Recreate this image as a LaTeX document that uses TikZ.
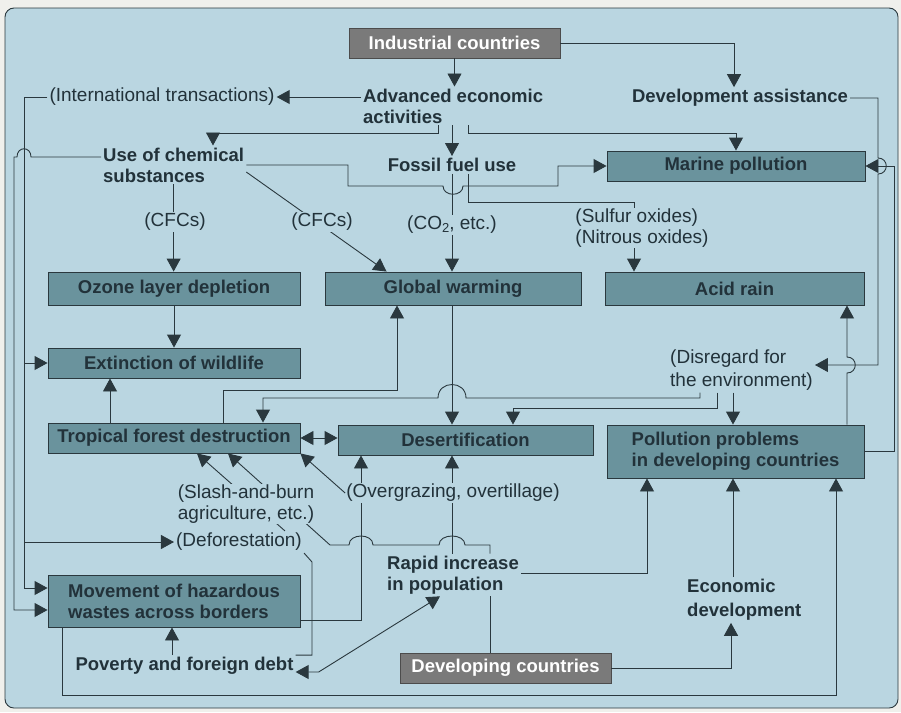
\documentclass[tikz,border=0pt]{standalone}
\usepackage{fontspec}
\setmainfont{Liberation Sans}
\usetikzlibrary{arrows.meta}

\definecolor{pagebg}{RGB}{240,240,236}
\definecolor{panelbg}{RGB}{186,214,225}
\definecolor{boxfill}{RGB}{106,147,157}
\definecolor{greyfill}{RGB}{122,122,122}
\definecolor{inkline}{RGB}{42,56,62}
\definecolor{inktext}{RGB}{34,50,58}

\newcommand\causefont{\fontsize{18.5}{21}\selectfont\bfseries}
\newcommand\notefont{\fontsize{19}{21}\selectfont}

\begin{document}
\begin{tikzpicture}[x=1pt, y=-1pt,
    wire/.style={draw=inkline, line width=0.9pt},
    arrowed/.style={wire, -{Triangle[length=13pt,width=14pt]}},
    twoway/.style={wire, {Triangle[length=13pt,width=14pt]}-{Triangle[length=13pt,width=14pt]}},
    issue/.style={draw=inkline, line width=0.9pt, fill=boxfill, text=inktext, font=\causefont,
        align=center, inner sep=2pt, minimum width=252pt, minimum height=30pt},
    actor/.style={issue, draw=black!70, fill=greyfill, text=white},
    cause/.style={text=inktext, font=\causefont, align=left, inner sep=2pt},
    note/.style={text=inktext, font=\notefont, align=center, inner sep=2pt},
    onwire/.style={note, fill=panelbg, inner sep=1pt}]

    % Draw the page and the background panel
    \useasboundingbox (0,0) rectangle (901,712);
    \fill[pagebg] (0,0) rectangle (901,712);
    \draw[wire, fill=panelbg, rounded corners=9pt] (5,8) rectangle (898,708);

    % Industrial countries and what they do
    \node[actor, minimum width=211pt] (ind) at (454.5,43) {Industrial countries};
    \node[cause, anchor=west] (adv) at (361,106) {Advanced economic\\activities};
    \node[note] (intl) at (162,97) {(International transactions)};
    \node[cause] (dev) at (740,98) {Development assistance};
    \node[cause, anchor=west] (chem) at (101,165) {Use of chemical\\substances};
    \node[cause] (fossil) at (452,165) {Fossil fuel use};
    \node[issue, minimum width=258pt] (marine) at (736,166) {Marine pollution};

    % Global problems
    \node[issue, minimum height=33pt] (ozone) at (174,288.5) {Ozone layer depletion};
    \node[issue, minimum width=256pt, minimum height=33pt] (warming) at (453,288.5) {Global warming};
    \node[issue, minimum width=259pt, minimum height=33pt] (acid) at (734.5,288.5) {Acid rain};
    \node[issue] (extinct) at (174,363) {Extinction of wildlife};
    \node[issue] (tropic) at (174,438) {Tropical forest destruction};
    \node[issue, minimum width=255pt] (desert) at (465.5,440) {Desertification};
    \node[issue, minimum width=257pt, minimum height=53pt, align=left] (pollut) at (735.5,451.5) {Pollution problems\\in developing countries};
    \node[note, align=left, anchor=west] (disreg) at (668,370) {(Disregard for\\[2pt]the environment)};

    % Developing countries side
    \node[issue, minimum height=52pt, align=left] (moving) at (174,601) {Movement of hazardous\\wastes across borders};
    \node[note] (defor) at (239,542) {(Deforestation)};
    \node[cause, anchor=west] (rapid) at (385,575) {Rapid increase\\in population};
    \node[cause, anchor=west] (econ) at (685,600) {Economic\\[3pt]development};
    \node[cause] (poverty) at (184.5,666) {Poverty and foreign debt};
    \node[actor, minimum width=211pt] (devg) at (505.5,668) {Developing countries};

    % Wires from the industrial countries
    \draw[arrowed] (ind.south) -- (ind.south |- adv.north);
    \draw[arrowed] (ind.east) -| (dev.north -| 734,0);
    \draw[arrowed] (adv.west |- intl.east) -- (intl.east);
    \draw[arrowed] (adv.south -| 438,0) -- (438,133) -| (chem.north -| 213,0);
    \draw[arrowed] (adv.south -| fossil.north) -- (fossil.north);
    \draw[arrowed] (adv.south -| 468,0) -- (468,133) -| (marine.north);

    % Wires from international transactions
    \coordinate (innerbus) at (24,97);
    \draw[arrowed] (intl.west) -- (innerbus) |- (moving.west |- 0,588);
    \draw[arrowed] (innerbus |- extinct.west) -- (extinct.west);
    \draw[arrowed] (innerbus |- defor.west) -- (defor.west);

    % Wires from the use of chemical substances
    \draw[arrowed] (chem.west |- 0,157) -- (31,157) .. controls (31,146) and (17,146) .. (17,157)
        -- (14,157) -- (14,610) -- (moving.west |- 0,610);
    \draw[arrowed] (chem.south) -- (chem.south |- ozone.north);
    \draw[arrowed] ([yshift=-7pt]chem.east) -- ([xshift=62pt]warming.north west);
    \draw[arrowed] (chem.east) -| (348,186) -- (443,186) .. controls (443,197) and (463,197) .. (463,186)
        -- (558,186) |- (marine.west);

    % Wires from fossil fuel use
    \draw[arrowed] (fossil.south) -- (fossil.south |- warming.north);
    \draw[arrowed] (fossil.south -| 468,0) |- (634,202) -- (acid.north -| 634,0);

    % Wire from development assistance
    \draw[arrowed] (dev.east) -- (878,98) -- (878,158) .. controls (889,158) and (889,174) .. (878,174)
        -- (878,365) -- (disreg.east |- 0,365);

    % Wires between the global problems
    \draw[arrowed] (ozone.south) -- (extinct.north);
    \draw[arrowed] (tropic.north -| 110,0) -- (extinct.south -| 110,0);
    \draw[arrowed] (tropic.north -| 223,0) |- (397,390) -- (warming.south -| 397,0);
    \draw[arrowed] (warming.south -| 452,0) -- (desert.north -| 452,0);
    \draw[twoway] (tropic.east) -- (tropic.east -| desert.west);

    % Wires from disregard for the environment
    \draw[arrowed] (disreg.south -| 700,0) -- (700,398) -- (466,398) .. controls (466,380) and (438,380) .. (438,398)
        -- (263,398) -- (tropic.north -| 263,0);
    \draw[arrowed] (disreg.south -| 717,0) |- (513,408) -- (desert.north -| 513,0);
    \draw[arrowed] (disreg.south -| 733,0) -- (pollut.north -| 733,0);

    % Wires from pollution problems
    \draw[arrowed] (pollut.north -| 847,0) -- (847,373) .. controls (858,373) and (858,357) .. (847,357)
        -- (acid.south -| 847,0);
    \draw[arrowed] (pollut.east) -| (894,166) -- (marine.east);

    % Wires from the developing countries side
    \draw[arrowed] (defor.north -| 285,0) -- (tropic.south -| 197,0);
    \draw[arrowed] (rapid.north -| 490,0) |- (465,545) .. controls (465,533) and (439,533) .. (439,545)
        -- (373,545) .. controls (373,533) and (349,533) .. (349,545) -- (330,545) -- (tropic.south -| 228,0);
    \draw[arrowed] (rapid.north -| 452,0) -- (desert.south -| 452,0);
    \draw[arrowed] (moving.east |- 0,620) -| (desert.south -| 361,0);
    \draw[wire] (poverty.north east) -| (312,562) -- (defor.south east);
    \draw[arrowed] (poverty.north -| 172,0) -- (moving.south -| 172,0);
    \draw[twoway] ([yshift=-6pt]poverty.east) -- ++(23,0) -- (rapid.south -| 440,0);
    \draw[arrowed] (rapid.east |- 0,573) -| (pollut.south -| 647,0);
    \draw[wire] (devg.north -| 490,0) -- (rapid.south -| 490,0);
    \draw[arrowed] (devg.east) -| (econ.south -| 731,0);
    \draw[arrowed] (econ.north -| 733,0) -- (pollut.south -| 733,0);
    \draw[arrowed] (moving.south -| 62,0) |- (836,695) -- (pollut.south -| 836,0);

    % Label the wires
    \node[onwire] (cfcA) at (175,222) {(CFCs)};
    \node[onwire] (cfcB) at (322,222) {(CFCs)};
    \node[onwire] (co2) at (452,225) {(CO\raisebox{-3pt}{\fontsize{13}{13}\selectfont 2}, etc.)};
    \node[onwire, align=left] (oxides) at (642,228) {(Sulfur oxides)\\(Nitrous oxides)};
    \node[onwire] (overg) at (453,493) {(Overgrazing, overtillage)};
    \node[onwire] (slash) at (246,504) {(Slash-and-burn\\agriculture, etc.)};
    \draw[arrowed] (overg.west) -- (tropic.south east);

\end{tikzpicture}
\end{document}
